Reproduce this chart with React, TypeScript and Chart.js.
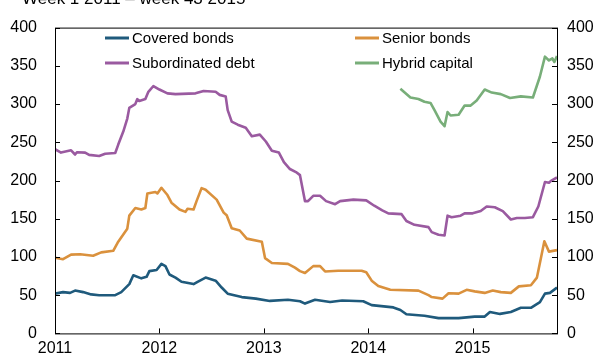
import React, { useEffect, useRef } from "react";
import { Chart, registerables } from "chart.js";

Chart.register(...registerables);

const titleText = "Week 1 2011 \u2013 week 43 2015";
const yearLabels = ["2011", "2012", "2013", "2014", "2015"];
const yearStartWeeks = [0, 52, 104, 156, 208];
const lastWeek = 250;
const yTicks = [0, 50, 100, 150, 200, 250, 300, 350, 400];

const seriesLabels = ["Covered bonds", "Senior bonds", "Subordinated debt", "Hybrid capital"];
const seriesColors = ["#1F5A7C", "#DA913D", "#9A5AA0", "#78AE79"];

const coveredWeeks = [0, 4, 7.5, 10, 14, 18, 22, 30, 33, 37, 39, 43, 45.6, 47, 50.6, 53, 55, 57, 60, 63, 69, 71, 75, 80, 83, 86, 93, 100, 107, 116, 122, 124.5, 129.5, 137, 143, 153.5, 157.7, 168.5, 172, 175, 184, 191, 201, 209, 214, 216.6, 221.6, 227, 232, 237, 241.5, 244, 246.5, 250];
const coveredValues = [52, 54, 53, 56, 54, 51, 50, 50, 54, 64.5, 76, 72, 74, 81.5, 83, 91, 88, 77, 73, 67.5, 64.5, 67.5, 73, 69, 60, 52, 47.5, 45.5, 42.5, 44, 42, 39, 44, 41, 43, 42, 37, 34, 30.6, 25, 23, 20, 20, 22, 22, 28, 25.5, 28, 33.5, 33.5, 41, 52, 53, 60];

const seniorWeeks = [0, 4, 8, 12.5, 19, 23, 29, 31.5, 36, 37, 40, 43, 45, 46, 50, 51, 53, 56, 58, 62, 65, 66, 69, 70.5, 73, 75, 80.5, 84, 85.5, 88, 92, 95.5, 103, 104.6, 108, 116, 119.5, 122, 124.5, 128.6, 132, 134.5, 141, 152.7, 155, 157.7, 161, 167, 181, 186, 187.6, 193, 196, 201, 205, 209, 214, 218, 222, 227, 231, 237, 240, 242, 243.7, 246, 250];
const seniorValues = [99, 97, 103, 103.6, 101.5, 106, 108, 120, 137, 154, 164, 162, 164, 183, 185, 183, 190.5, 181, 171, 162, 159, 163, 162, 173, 190, 188, 175, 158, 154.5, 137.6, 134.6, 124, 120, 98.5, 92, 91, 86, 81.5, 79, 88, 88, 81, 82, 82, 80, 69, 62, 57, 56, 50, 47.5, 45.5, 52.6, 52, 57, 55, 53, 56, 54, 53, 61.5, 63, 73, 98.5, 120.6, 107, 109];

const subordWeeks = [0, 3, 8, 10, 11, 15, 17, 22, 25, 30, 31.5, 34, 36, 37, 40, 41, 42, 45, 46.5, 49, 52, 56, 60, 70, 74, 80, 82, 85, 86, 88, 91, 95, 98, 102, 105, 108, 111.5, 114, 117, 120, 122, 124.5, 126, 128.6, 132, 135, 139.5, 142, 148.6, 155, 159, 163, 166, 172.6, 175, 179, 186, 187.6, 191, 194, 195.5, 197.5, 202, 204, 208, 212, 215, 219, 223, 227, 230, 234, 238, 240.7, 244, 246, 247, 250];
const subordValues = [241, 236.5, 239.5, 234, 237, 236.5, 233.5, 232, 235, 236, 247, 264, 281, 295, 300, 306.5, 304, 306.5, 316, 323.6, 319, 314, 313, 314, 317, 316, 312, 310, 292, 277, 273, 269, 258, 260, 251, 239, 236.5, 224, 215, 211, 207, 173, 173, 180, 180, 173, 169, 173, 175, 174, 167, 161, 157, 156, 147, 142, 139, 132.5, 129, 128, 154, 152, 154, 157, 157, 160, 166, 165, 160, 149, 151, 151, 152, 166, 198, 197, 199.5, 204];

const hybridWeeks = [172, 177, 181, 184, 187, 189, 192, 194, 195.5, 197, 201, 204, 207, 210, 214, 217.5, 222, 226.6, 232, 238, 241.5, 244, 246, 247.7, 248.7, 250];
const hybridValues = [320, 308.6, 306.6, 303, 301.5, 292, 277, 271, 289.6, 285, 286, 298, 298, 304.5, 319, 315, 313, 308, 310, 308.6, 336, 362, 357, 359.6, 355, 363];

const toPoints = (w: number[], v: number[]) => w.map((x, i) => ({ x, y: v[i] }));

const FONT = "'Liberation Sans', Arial, Helvetica, sans-serif";

const framePlugin = {
  id: "frame",
  afterDraw(chart: any) {
    const { ctx, chartArea } = chart;
    const { left, right, top, bottom } = chartArea;
    const y = chart.scales.y;
    const x = chart.scales.x;
    ctx.save();
    ctx.strokeStyle = "#000";
    ctx.lineWidth = 1;
    ctx.strokeRect(left + 0.5, top + 0.5, right - left, bottom - top);
    ctx.beginPath();
    yTicks.forEach((t) => {
      const py = Math.round(y.getPixelForValue(t)) + 0.5;
      ctx.moveTo(left, py);
      ctx.lineTo(left + 5, py);
      ctx.moveTo(right, py);
      ctx.lineTo(right - 5, py);
    });
    yearStartWeeks.forEach((w) => {
      const px = Math.round(x.getPixelForValue(w)) + 0.5;
      ctx.moveTo(px, bottom);
      ctx.lineTo(px, bottom - 5);
    });
    ctx.stroke();

    ctx.fillStyle = "#000";
    ctx.font = `17px ${FONT}`;
    ctx.textBaseline = "alphabetic";
    ctx.textAlign = "left";
    ctx.fillText(titleText, 22, 4);

    const legendPos = [
      [105, 38],
      [355, 38],
      [105, 63],
      [355, 63],
    ];
    ctx.font = `15px ${FONT}`;
    ctx.textBaseline = "middle";
    chart.data.datasets.forEach((ds: any, i: number) => {
      const [lx, ly] = legendPos[i];
      ctx.strokeStyle = ds.borderColor;
      ctx.lineWidth = 3;
      ctx.beginPath();
      ctx.moveTo(lx, ly);
      ctx.lineTo(lx + 24, ly);
      ctx.stroke();
      ctx.fillStyle = "#000";
      ctx.fillText(ds.label, lx + 27, ly + 1);
    });
    ctx.restore();
  },
};

export default function App() {
  const ref = useRef<HTMLCanvasElement>(null);
  useEffect(() => {
    document.body.style.margin = "0";
    const series = [
      toPoints(coveredWeeks, coveredValues),
      toPoints(seniorWeeks, seniorValues),
      toPoints(subordWeeks, subordValues),
      toPoints(hybridWeeks, hybridValues),
    ];
    const tickFont = { family: FONT, size: 16 };
    const chart = new Chart(ref.current as HTMLCanvasElement, {
      type: "line",
      data: {
        datasets: series.map((d, i) => ({
          label: seriesLabels[i],
          data: d,
          borderColor: seriesColors[i],
          backgroundColor: seriesColors[i],
          borderWidth: 2.6,
          borderJoinStyle: "round",
          pointRadius: 0,
          tension: 0,
          yAxisID: "y",
        })),
      },
      options: {
        responsive: false,
        animation: false,
        layout: { padding: { top: 20, left: 0, right: 0, bottom: 0 } },
        plugins: { legend: { display: false }, tooltip: { enabled: false } },
        scales: {
          x: {
            type: "linear",
            min: 0,
            max: lastWeek,
            grid: { display: false, drawTicks: false },
            border: { display: false },
            afterBuildTicks: (s: any) => {
              s.ticks = yearStartWeeks.map((v) => ({ value: v }));
            },
            afterFit: (s: any) => {
              s.height = 27;
            },
            ticks: {
              autoSkip: false,
              maxRotation: 0,
              padding: 6,
              color: "#000",
              font: tickFont,
              callback: (v: any) => {
                const i = yearStartWeeks.indexOf(Number(v));
                return i >= 0 ? yearLabels[i] : "";
              },
            },
          },
          y: {
            position: "left",
            min: 0,
            max: 400,
            grid: { display: false, drawTicks: false },
            border: { display: false },
            afterBuildTicks: (s: any) => {
              s.ticks = yTicks.map((v) => ({ value: v }));
            },
            afterFit: (s: any) => {
              s.width = 55;
            },
            ticks: { padding: 18, color: "#000", font: tickFont },
          },
          y2: {
            position: "right",
            min: 0,
            max: 400,
            grid: { display: false, drawTicks: false },
            border: { display: false },
            afterBuildTicks: (s: any) => {
              s.ticks = yTicks.map((v) => ({ value: v }));
            },
            afterFit: (s: any) => {
              s.width = 43;
            },
            ticks: { padding: 10, color: "#000", font: tickFont },
          },
        },
      } as any,
      plugins: [framePlugin],
    });
    return () => chart.destroy();
  }, []);
  return (
    <div style={{ width: 600, height: 361 }}>
      <canvas ref={ref} width={600} height={361} style={{ display: "block" }} />
    </div>
  );
}
